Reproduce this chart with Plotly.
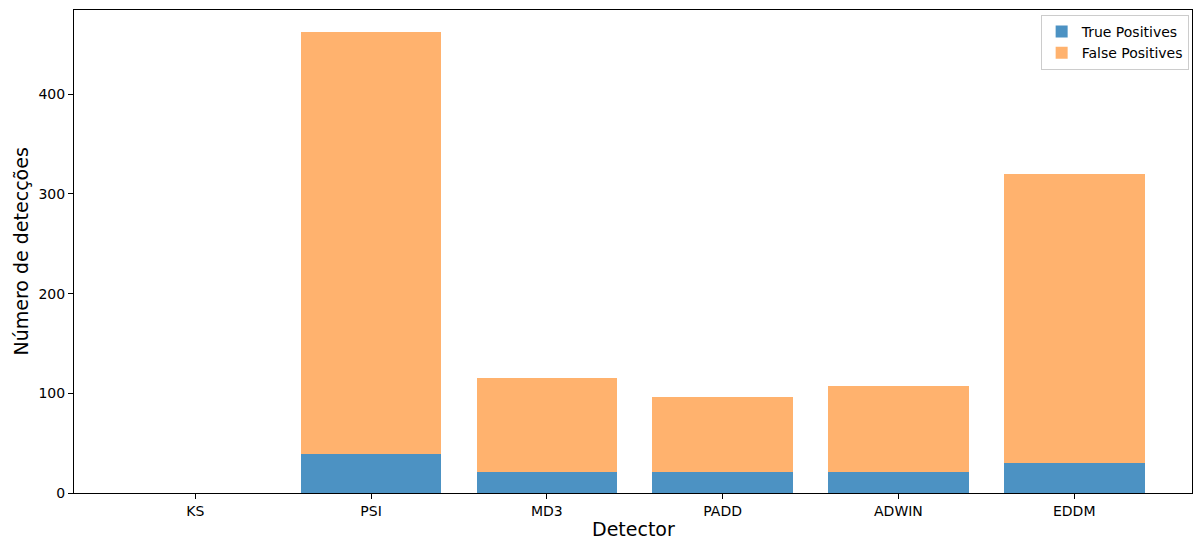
import plotly.graph_objects as go

detectors = ["KS", "PSI", "MD3", "PADD", "ADWIN", "EDDM"]
true_positives = [0, 39, 21, 21, 21, 30]
false_positives = [0, 423, 94, 75, 86, 290]

fig = go.Figure()
fig.add_trace(go.Bar(
    x=detectors, y=true_positives, name="True Positives",
    marker=dict(color="rgba(31,119,180,0.8)", line=dict(width=0)),
))
fig.add_trace(go.Bar(
    x=detectors, y=false_positives, name="False Positives",
    marker=dict(color="rgba(255,127,14,0.6)", line=dict(width=0)),
))

title_font = dict(family="DejaVu Sans", size=19, color="black")

fig.update_layout(
    barmode="stack",
    bargap=0.2,
    width=1193, height=539,
    margin=dict(l=74, r=1, t=10, b=46),
    plot_bgcolor="white", paper_bgcolor="white",
    font=dict(family="DejaVu Sans", size=14, color="black"),
    showlegend=True,
    legend=dict(
        x=0.997, y=0.99, xanchor="right", yanchor="top",
        bgcolor="rgba(255,255,255,0.8)", bordercolor="#cccccc", borderwidth=1,
        font=dict(family="DejaVu Sans", size=14),
        traceorder="normal", itemwidth=30, tracegroupgap=0,
    ),
    annotations=[
        dict(text="Detector", xref="paper", yref="paper", x=0.5, y=0,
             xanchor="center", yanchor="middle", yshift=-36, borderpad=0,
             showarrow=False, font=title_font),
        dict(text="Número de detecções", xref="paper", yref="paper", x=0, y=0.5,
             xanchor="center", yanchor="middle", xshift=-54, textangle=-90,
             showarrow=False, font=title_font),
    ],
)
fig.update_xaxes(
    range=[-0.69, 5.67],
    automargin=False,
    showline=True, linecolor="black", linewidth=1, mirror=True,
    ticks="outside", ticklen=5, tickcolor="black",
    tickfont=dict(family="DejaVu Sans", size=14),
    showgrid=False,
)
fig.update_yaxes(
    range=[0, 484.5],
    automargin=False,
    tickvals=[0, 100, 200, 300, 400],
    showline=True, linecolor="black", linewidth=1, mirror=True,
    ticks="outside", ticklen=5, tickcolor="black",
    tickfont=dict(family="DejaVu Sans", size=14),
    showgrid=False, zeroline=False,
)

fig.write_html("out.html")
